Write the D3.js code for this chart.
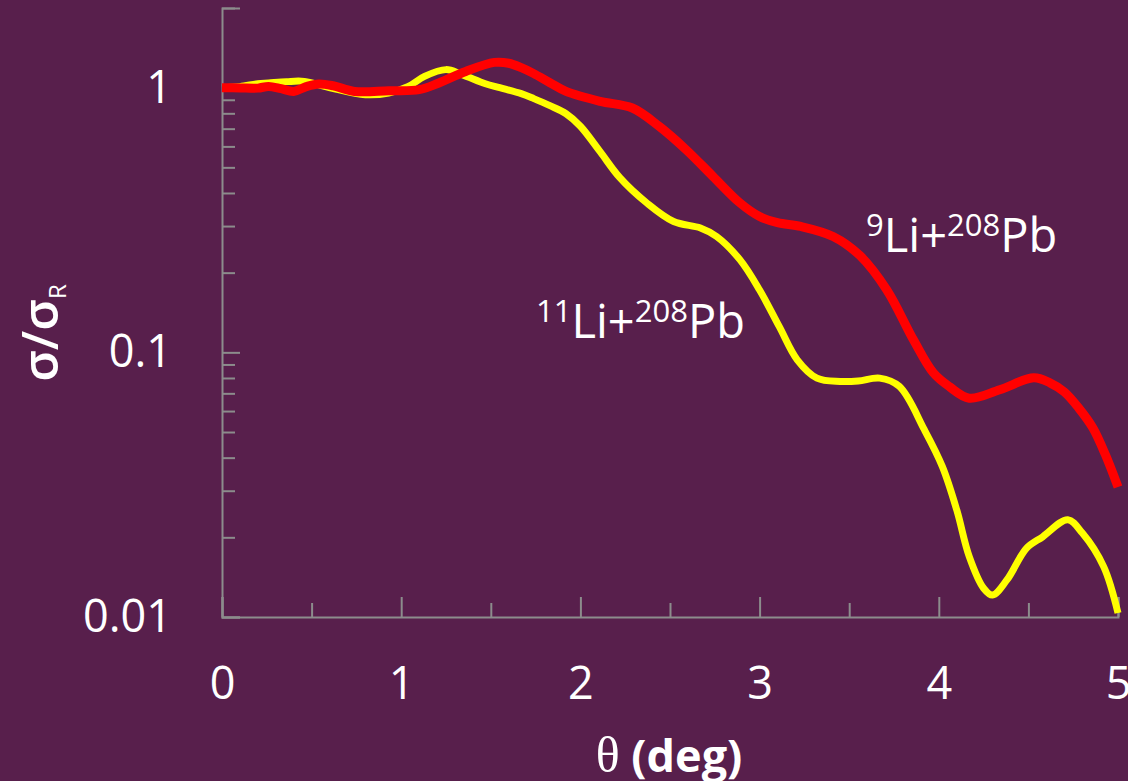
<!DOCTYPE html>
<html>
<head>
<meta charset="utf-8">
<script src="https://cdn.jsdelivr.net/npm/d3@7"></script>
<style>
  html, body { margin: 0; padding: 0; background: #581f4c; }
  svg { display: block; }
  text { fill: #ffffff; font-family: "Open Sans", "Noto Sans", sans-serif; }
</style>
</head>
<body>
<svg id="chart" width="1128" height="781"></svg>
<script>
// Scattering angle (deg) and ratio to Rutherford, 9Li + 208Pb
const theta9Li = [0, 0.1, 0.2, 0.26, 0.33, 0.4, 0.47, 0.54, 0.62, 0.74, 0.93, 1.1, 1.21, 1.36, 1.52, 1.6,
  1.67, 1.74, 1.83, 1.92, 2.11, 2.29, 2.44, 2.59, 2.74, 2.89, 3.0, 3.1, 3.23, 3.41, 3.56, 3.71, 3.86, 3.97,
  4.06, 4.17, 4.34, 4.53, 4.62, 4.7, 4.78, 4.86, 4.93, 5.0];
const ratio9Li = [1.0, 0.998, 0.996, 1.011, 0.991, 0.968, 1.009, 1.033, 1.017, 0.968, 0.974, 0.983, 1.042,
  1.152, 1.246, 1.237, 1.19, 1.13, 1.044, 0.968, 0.888, 0.838, 0.714, 0.583, 0.462, 0.367, 0.326, 0.309,
  0.299, 0.274, 0.232, 0.172, 0.111, 0.0836, 0.0741, 0.0671, 0.0722, 0.0801, 0.0767, 0.0709, 0.0617,
  0.0518, 0.041, 0.031];

// Scattering angle (deg) and ratio to Rutherford, 11Li + 208Pb
const theta11Li = [0, 0.1, 0.2, 0.26, 0.36, 0.46, 0.61, 0.8, 0.93, 1.04, 1.13, 1.25, 1.34, 1.47, 1.55,
  1.67, 1.74, 1.83, 1.92, 2.0, 2.11, 2.22, 2.37, 2.52, 2.67, 2.76, 2.89, 3.0, 3.11, 3.21, 3.32,
  3.45, 3.55, 3.67, 3.78, 3.92, 4.02, 4.1, 4.17, 4.25, 4.3, 4.38, 4.49, 4.58, 4.72, 4.8, 4.92, 5.0];
const ratio11Li = [1.0, 1.009, 1.035, 1.042, 1.054, 1.056, 0.997, 0.941, 0.955, 1.011, 1.103, 1.17, 1.12,
  1.035, 1.0, 0.949, 0.909, 0.855, 0.797, 0.715, 0.573, 0.457, 0.367, 0.312, 0.295, 0.274, 0.224,
  0.172, 0.125, 0.0937, 0.0799, 0.0776, 0.0779, 0.0799, 0.0743, 0.0509, 0.037, 0.0254, 0.0169, 0.01284,
  0.0121, 0.0138, 0.0182, 0.0201, 0.0233, 0.0208, 0.0155, 0.01035];

// Axis ticks
const xMajorTicks = [0, 1, 2, 3, 4, 5];
const xMinorTicks = [0.5, 1.5, 2.5, 3.5, 4.5];
const yMajorTicks = [0.01, 0.1, 1];
const yMajorLabels = ["0.01", "0.1", "1"];
const yMinorTicks = [0.02, 0.03, 0.04, 0.05, 0.06, 0.07, 0.08, 0.09,
  0.2, 0.3, 0.4, 0.5, 0.6, 0.7, 0.8, 0.9, 2];

const svg = d3.select("#chart");
const W = 1128, H = 781;
const margin = { left: 222, right: 10, top: 8, bottom: 164 };

svg.append("rect").attr("width", W).attr("height", H).attr("fill", "#581f4c");

const x = d3.scaleLinear().domain([0, 5]).range([margin.left, W - margin.right]);
const y = d3.scaleLog().domain([0.01, 2]).range([H - margin.bottom, margin.top]);

const axisColor = "#8c8c8c";

// x axis: major ticks with labels, minor ticks without
svg.append("g").attr("transform", `translate(0,${y(0.01)})`)
  .call(d3.axisBottom(x).tickValues(xMajorTicks).tickSize(-20).tickPadding(50)
    .tickFormat(d3.format("d")));
svg.append("g").attr("transform", `translate(0,${y(0.01)})`)
  .call(d3.axisBottom(x).tickValues(xMinorTicks).tickSize(-14).tickFormat(""))
  .call(g => g.select(".domain").remove());

// y axis (log)
svg.append("g").attr("transform", `translate(${x(0)},0)`)
  .call(d3.axisLeft(y).tickValues(yMajorTicks).tickSize(-18).tickPadding(50)
    .tickFormat((d, i) => yMajorLabels[i]));
svg.append("g").attr("transform", `translate(${x(0)},0)`)
  .call(d3.axisLeft(y).tickValues(yMinorTicks).tickSize(-13).tickFormat(""))
  .call(g => g.select(".domain").remove());

svg.selectAll(".domain").attr("stroke", axisColor).attr("stroke-width", 2);
svg.selectAll(".tick line").attr("stroke", axisColor).attr("stroke-width", 2);
svg.selectAll(".tick text")
  .attr("fill", "#ffffff")
  .style("font-family", '"Open Sans", sans-serif')
  .style("font-size", "45px");

// curves
const line = d3.line()
  .x(d => x(d[0]))
  .y(d => y(d[1]))
  .curve(d3.curveCatmullRom.alpha(0.5));

const data11 = theta11Li.map((t, i) => [t, ratio11Li[i]]);
const data9 = theta9Li.map((t, i) => [t, ratio9Li[i]]);

svg.append("path").datum(data11)
  .attr("d", line).attr("fill", "none")
  .attr("stroke", "#ffff00").attr("stroke-width", 7)
  .attr("stroke-linejoin", "round");

svg.append("path").datum(data9)
  .attr("d", line).attr("fill", "none")
  .attr("stroke", "#ff0000").attr("stroke-width", 9)
  .attr("stroke-linejoin", "round");

// reaction labels
function reactionLabel(px, py, massLi) {
  const t = svg.append("text").attr("x", px).attr("y", py).style("font-size", "47px");
  t.append("tspan").text(massLi).style("font-size", "31px").attr("dy", -16);
  t.append("tspan").text("Li+").attr("dy", 16);
  t.append("tspan").text("208").style("font-size", "31px").attr("dy", -16);
  t.append("tspan").text("Pb").attr("dy", 16);
}
reactionLabel(866, 252, "9");
reactionLabel(536, 338, "11");

// axis titles
const xt = svg.append("text")
  .attr("x", 669).attr("y", 772)
  .attr("text-anchor", "middle");
xt.append("tspan").text("θ").style("font-family", '"Liberation Serif", "DejaVu Serif", serif')
  .style("font-size", "50px");
xt.append("tspan").text(" (deg)").style("font-weight", "700").style("font-size", "45px");

const yt = svg.append("text")
  .attr("transform", "translate(58,333) rotate(-90)")
  .attr("text-anchor", "middle")
  .style("font-size", "50px").style("font-weight", "600");
yt.append("tspan").text("σ/σ");
yt.append("tspan").text("R").style("font-size", "24px").style("font-weight", "400").attr("dy", 8);
</script>
</body>
</html>
